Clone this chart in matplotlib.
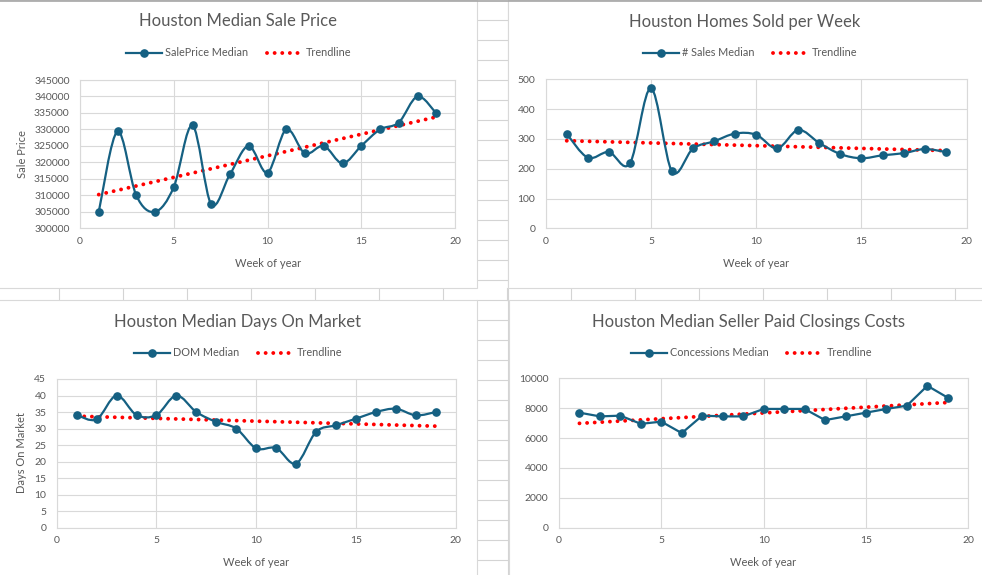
import numpy as np
import matplotlib.pyplot as plt
from matplotlib.lines import Line2D
from matplotlib.patches import Rectangle, PathPatch
from matplotlib.path import Path

plt.rcParams['font.family'] = ['Lato', 'DejaVu Sans']

W, H = 982, 575

weeks = list(range(1, 20))
sale_price = [305000, 329400, 310000, 305000, 312500, 331200, 307300, 316400, 325000, 316900,
              330000, 322700, 325000, 319700, 325000, 330000, 332100, 340000, 334900]
homes_sold = [317, 237, 256, 218, 470, 191, 268, 292, 318, 314,
              268, 330, 286, 249, 235, 245, 252, 266, 256]
days_on_market = [34.1, 32.8, 40, 34.1, 34.1, 40, 35, 32, 30, 24,
                  24.1, 19.4, 29, 31, 33, 35, 36, 34, 35]
concessions = [7700, 7450, 7500, 6950, 7100, 6330, 7500, 7450, 7450, 7950,
               7950, 7950, 7200, 7450, 7700, 7950, 8170, 9500, 8700]

BLUE = '#156082'
TXT = '#595959'
GRID = '#d9d9d9'
CELL = '#d4d4d4'


def fx(x):
    return x / W


def fy(y):
    return 1 - y / H


def smooth_path(x, y):
    # Excel style smoothed line: cubic bezier through the points
    pts = np.column_stack([x, y]).astype(float)
    n = len(pts)
    verts = [pts[0]]
    codes = [Path.MOVETO]
    for i in range(n - 1):
        p0 = pts[i - 1] if i > 0 else pts[i]
        p1 = pts[i]
        p2 = pts[i + 1]
        p3 = pts[i + 2] if i + 2 < n else pts[i + 1]
        verts += [p1 + (p2 - p0) / 6, p2 - (p3 - p1) / 6, p2]
        codes += [Path.CURVE4] * 3
    return Path(verts, codes)


fig = plt.figure(figsize=(W / 100, H / 100), dpi=100)
fig.patch.set_facecolor('white')


def fline(x0, y0, x1, y1, color=CELL, lw=0.8, z=0.5):
    fig.add_artist(Line2D([fx(x0), fx(x1)], [fy(y0), fy(y1)], transform=fig.transFigure,
                          color=color, lw=lw, zorder=z))


# spreadsheet cells showing between the charts
for y in range(20, 575, 20):
    fline(476.5, y, 507.5, y)
fline(507.5, 0, 507.5, 575)
for x in range(59, 982, 64):
    fline(x, 288, x, 300)
fline(0, 0.5, W, 0.5, color='#a6a6a6', lw=1.2, z=3)

# chart areas
boxes = [(-2, 0, 476.5, 288.3), (508.3, 0, 990, 288.3),
         (-2, 299.5, 476.5, 580), (509.3, 299.5, 990, 580)]
for x0, y0, x1, y1 in boxes:
    fig.add_artist(Rectangle((fx(x0), fy(y1)), fx(x1) - fx(x0), fy(y0) - fy(y1),
                             transform=fig.transFigure, facecolor='white',
                             edgecolor=GRID, lw=0.8, zorder=1))

charts = [
    dict(vals=sale_price, name='SalePrice Median', title='Houston Median Sale Price',
         plot=(80, 80, 455, 228.3), ylim=(300000, 345000), ystep=5000, smooth=True,
         tc=(238, 21.5), lc=(238.5, 53), xl=(268, 263.5), ylab='Sale Price', yl=(22, 154)),
    dict(vals=homes_sold, name='# Sales Median', title='Houston Homes Sold per Week',
         plot=(545.7, 79.3, 966.7, 228.3), ylim=(0, 500), ystep=100, smooth=True,
         tc=(745, 21.5), lc=(750, 53), xl=(756, 263.5), ylab=None, yl=None),
    dict(vals=days_on_market, name='DOM Median', title='Houston Median Days On Market',
         plot=(56.7, 379, 455.7, 527.7), ylim=(0, 45), ystep=5, smooth=True,
         tc=(238, 322), lc=(238.5, 353), xl=(256, 563), ylab='Days On Market', yl=(22, 453)),
    dict(vals=concessions, name='Concessions Median', title='Houston Median Seller Paid Closings Costs',
         plot=(559, 378.3, 968.3, 527.7), ylim=(0, 10000), ystep=2000, smooth=False,
         tc=(749, 322), lc=(751.5, 353), xl=(763.5, 563), ylab=None, yl=None),
]

for c in charts:
    x0, y0, x1, y1 = c['plot']
    ax = fig.add_axes([fx(x0), fy(y1), fx(x1) - fx(x0), fy(y0) - fy(y1)])
    ax.set_zorder(5)
    ax.set_facecolor('white')
    x = np.array(weeks)
    y = np.array(c['vals'], dtype=float)

    # linear trendline
    k, b = np.polyfit(x, y, 1)
    ax.plot(x, k * x + b, color='red', lw=2.8, linestyle=(0, (0.01, 1.95)),
            dash_capstyle='round', zorder=3)

    if c['smooth']:
        ax.add_patch(PathPatch(smooth_path(x, y), facecolor='none', edgecolor=BLUE,
                               lw=1.6, zorder=4))
    else:
        ax.plot(x, y, color=BLUE, lw=1.6, zorder=4)
    ax.plot(x, y, 'o', color=BLUE, ms=5.2, zorder=5)

    ax.set_xlim(0, 20)
    ax.set_ylim(*c['ylim'])
    ax.set_xticks(range(0, 21, 5))
    ax.set_yticks(np.arange(c['ylim'][0], c['ylim'][1] + 1, c['ystep']))
    ax.grid(True, color=GRID, lw=0.8)
    ax.set_axisbelow(True)
    for s in ax.spines.values():
        s.set_color(GRID)
        s.set_linewidth(0.8)
    ax.tick_params(length=0, labelsize=7.5, labelcolor=TXT)
    ax.tick_params(axis='y', pad=7.5)
    ax.tick_params(axis='x', pad=6)

    handles = [Line2D([], [], color=BLUE, lw=1.6, marker='o', ms=5.2),
               Line2D([], [], color='red', lw=2.8, linestyle=(0, (0.01, 1.95)),
                      dash_capstyle='round')]
    ax.legend(handles, [c['name'], 'Trendline'], loc='center',
              bbox_to_anchor=(fx(c['lc'][0]), fy(c['lc'][1])), bbox_transform=fig.transFigure,
              ncol=2, frameon=False, fontsize=7.8, labelcolor=TXT, handlelength=3.3,
              handletextpad=0.3, columnspacing=1.7, borderaxespad=0, borderpad=0)

    fig.text(fx(c['tc'][0]), fy(c['tc'][1]), c['title'], ha='center', va='center',
             fontsize=12, color=TXT, zorder=6)
    fig.text(fx(c['xl'][0]), fy(c['xl'][1]), 'Week of year', ha='center', va='center',
             fontsize=8, color=TXT, zorder=6)
    if c['ylab']:
        fig.text(fx(c['yl'][0]), fy(c['yl'][1]), c['ylab'], ha='center', va='center',
                 rotation=90, fontsize=8, color=TXT, zorder=6)

fig.savefig('out.png', dpi=100)
